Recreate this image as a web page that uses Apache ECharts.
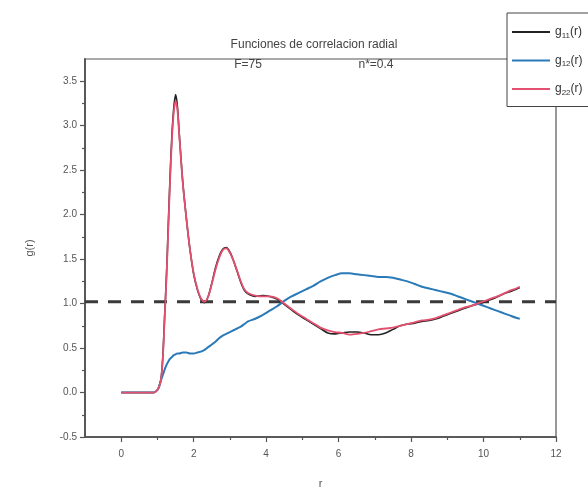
<!DOCTYPE html>
<html>
<head>
<meta charset="utf-8">
<script src="https://cdn.jsdelivr.net/npm/echarts@6/dist/echarts.min.js"></script>
<style>html,body{margin:0;padding:0;background:#fff;}#c{width:588px;height:494px;}</style>
</head>
<body>
<div id="c"></div>
<script>
var r = [0, 0.5, 0.9, 1.0, 1.05, 1.1, 1.15, 1.2, 1.25, 1.3, 1.35, 1.4, 1.45, 1.5, 1.55, 1.6, 1.7, 1.8, 1.9, 2.0, 2.1, 2.2, 2.3, 2.4, 2.5, 2.6, 2.7, 2.8, 2.9, 3.0, 3.1, 3.2, 3.3, 3.4, 3.5, 3.7, 3.9, 4.1, 4.3, 4.5, 4.7, 4.9, 5.1, 5.3, 5.5, 5.7, 5.9, 6.1, 6.3, 6.5, 6.7, 6.9, 7.1, 7.3, 7.5, 7.7, 7.9, 8.1, 8.3, 8.5, 8.7, 8.9, 9.1, 9.3, 9.5, 9.7, 9.9, 10.1, 10.3, 10.5, 10.7, 10.9, 11.0];
var g11 = [0, 0, 0, 0.03, 0.08, 0.16, 0.42, 0.88, 1.33, 1.9, 2.45, 2.9, 3.2, 3.35, 3.22, 2.92, 2.36, 1.95, 1.6, 1.33, 1.16, 1.05, 1.01, 1.08, 1.23, 1.4, 1.53, 1.61, 1.63, 1.58, 1.48, 1.36, 1.24, 1.15, 1.11, 1.08, 1.09, 1.08, 1.05, 0.99, 0.93, 0.87, 0.82, 0.77, 0.72, 0.67, 0.66, 0.67, 0.68, 0.68, 0.67, 0.65, 0.65, 0.67, 0.71, 0.75, 0.77, 0.78, 0.8, 0.81, 0.83, 0.86, 0.89, 0.92, 0.95, 0.98, 1.0, 1.03, 1.06, 1.1, 1.13, 1.16, 1.18];
var g12 = [0, 0, 0, 0.03, 0.07, 0.14, 0.2, 0.26, 0.31, 0.35, 0.38, 0.4, 0.42, 0.43, 0.44, 0.44, 0.45, 0.45, 0.44, 0.44, 0.45, 0.46, 0.48, 0.51, 0.54, 0.57, 0.61, 0.64, 0.66, 0.68, 0.7, 0.72, 0.74, 0.77, 0.8, 0.83, 0.87, 0.92, 0.97, 1.03, 1.08, 1.12, 1.16, 1.2, 1.25, 1.29, 1.32, 1.34, 1.34, 1.33, 1.32, 1.31, 1.3, 1.3, 1.29, 1.27, 1.25, 1.22, 1.19, 1.17, 1.15, 1.13, 1.11, 1.08, 1.05, 1.02, 0.99, 0.96, 0.93, 0.9, 0.87, 0.84, 0.83];
var g22 = [0, 0, 0, 0.03, 0.07, 0.15, 0.4, 0.85, 1.3, 1.85, 2.4, 2.85, 3.15, 3.28, 3.18, 2.9, 2.35, 1.95, 1.6, 1.34, 1.17, 1.06, 1.02, 1.08, 1.22, 1.38, 1.51, 1.6, 1.62, 1.57, 1.48, 1.37, 1.25, 1.16, 1.12, 1.09, 1.08, 1.08, 1.06, 1.0, 0.94, 0.88, 0.83, 0.78, 0.73, 0.70, 0.68, 0.67, 0.65, 0.66, 0.67, 0.69, 0.71, 0.72, 0.73, 0.75, 0.77, 0.79, 0.81, 0.82, 0.84, 0.87, 0.9, 0.93, 0.96, 0.98, 1.01, 1.04, 1.07, 1.1, 1.14, 1.17, 1.19];
var refR = [-1, 12];
var refG = [1.02, 1.02];
var seriesNames = ['g11(r)', 'g12(r)', 'g22(r)'];
var legendLabels = {'g11(r)': 'g{s|11}(r)', 'g12(r)': 'g{s|12}(r)', 'g22(r)': 'g{s|22}(r)'};
var xMajorTicks = [0, 2, 4, 6, 8, 10, 12];
var xMinorTicks = [1, 3, 5, 7, 9, 11];
var yMajorTicks = [-0.5, 0, 0.5, 1.0, 1.5, 2.0, 2.5, 3.0, 3.5];
var yMinorTicks = [-0.25, 0.25, 0.75, 1.25, 1.75, 2.25, 2.75, 3.25];
var titleText = 'Funciones de correlacion radial';
var subLeft = 'F=75';
var subRight = 'n*=0.4';

function pairs(xs, ys) { return xs.map(function (x, i) { return [x, ys[i]]; }); }

var axisCol = '#555';
var font = 'Liberation Sans, Arial, sans-serif';
var chart = echarts.init(document.getElementById('c'));
var baseX = { type: 'value', min: -1, max: 12, interval: 1, splitLine: { show: false },
  axisLine: { onZero: false, lineStyle: { color: axisCol, width: 1.5 } } };
var baseY = { type: 'value', min: -0.5, max: 3.75, splitLine: { show: false },
  axisLine: { onZero: false, lineStyle: { color: axisCol, width: 1.5 } } };
chart.setOption({
  animation: false,
  backgroundColor: '#fff',
  grid: { left: 85, right: 32, top: 59, bottom: 55, show: true, borderColor: axisCol, borderWidth: 1.2, backgroundColor: 'transparent' },
  graphic: [
    { type: 'text', style: { text: titleText, x: 314, y: 45, align: 'center', verticalAlign: 'middle', fontSize: 12, fontFamily: font, fill: '#444' } },
    { type: 'text', style: { text: subLeft, x: 248, y: 65, align: 'center', verticalAlign: 'middle', fontSize: 12, fontFamily: font, fill: '#444' } },
    { type: 'text', style: { text: subRight, x: 376, y: 65, align: 'center', verticalAlign: 'middle', fontSize: 12, fontFamily: font, fill: '#444' } }
  ],
  legend: {
    data: seriesNames, orient: 'vertical', left: 507, top: 13,
    padding: [12, 12, 10, 5], itemGap: 14, itemWidth: 38, itemHeight: 2, icon: 'rect',
    borderColor: '#444', borderWidth: 1, backgroundColor: '#fff',
    formatter: function (n) { return legendLabels[n]; },
    textStyle: { fontSize: 12, color: '#333', lineHeight: 14, fontFamily: font,
      rich: { s: { fontSize: 8, color: '#333', padding: [7, 0, 0, 0], fontFamily: font } } }
  },
  xAxis: [
    Object.assign({}, baseX, { name: 'r', nameLocation: 'middle', nameGap: 41,
      nameTextStyle: { color: '#555', fontSize: 11, fontFamily: font },
      axisTick: { customValues: xMajorTicks, length: 5, lineStyle: { color: axisCol, width: 1.2 } },
      axisLabel: { customValues: xMajorTicks, margin: 12, color: '#555', fontSize: 10, fontFamily: font } }),
    Object.assign({}, baseX, { position: 'bottom',
      axisTick: { customValues: xMinorTicks, length: 3, lineStyle: { color: axisCol, width: 1.2 } },
      axisLabel: { show: false } })
  ],
  yAxis: [
    Object.assign({}, baseY, { name: 'g(r)', nameLocation: 'middle', nameGap: 50, nameRotate: 90,
      nameTextStyle: { color: '#555', fontSize: 11, fontFamily: font },
      axisTick: { customValues: yMajorTicks, length: 5, lineStyle: { color: axisCol, width: 1.2 } },
      axisLabel: { customValues: yMajorTicks, margin: 8, color: '#555', fontSize: 10, fontFamily: font,
        formatter: function (v) { return v.toFixed(1); } } }),
    Object.assign({}, baseY, { position: 'left',
      axisTick: { customValues: yMinorTicks, length: 3, lineStyle: { color: axisCol, width: 1.2 } },
      axisLabel: { show: false } })
  ],
  series: [
    { name: 'ref', type: 'line', data: pairs(refR, refG), showSymbol: false, silent: true,
      lineStyle: { color: '#3a3a3a', width: 3, type: [13, 10] }, z: 1 },
    { name: seriesNames[0], type: 'line', data: pairs(r, g11), showSymbol: false, smooth: 0.3,
      color: '#222', lineStyle: { color: '#222', width: 1.6 }, z: 2 },
    { name: seriesNames[1], type: 'line', data: pairs(r, g12), showSymbol: false, smooth: 0.3,
      color: '#2a7ab8', lineStyle: { color: '#2a7ab8', width: 2 }, z: 3 },
    { name: seriesNames[2], type: 'line', data: pairs(r, g22), showSymbol: false, smooth: 0.3,
      color: '#e4506f', lineStyle: { color: '#e4506f', width: 1.8 }, z: 4 }
  ]
});
</script>
</body>
</html>
